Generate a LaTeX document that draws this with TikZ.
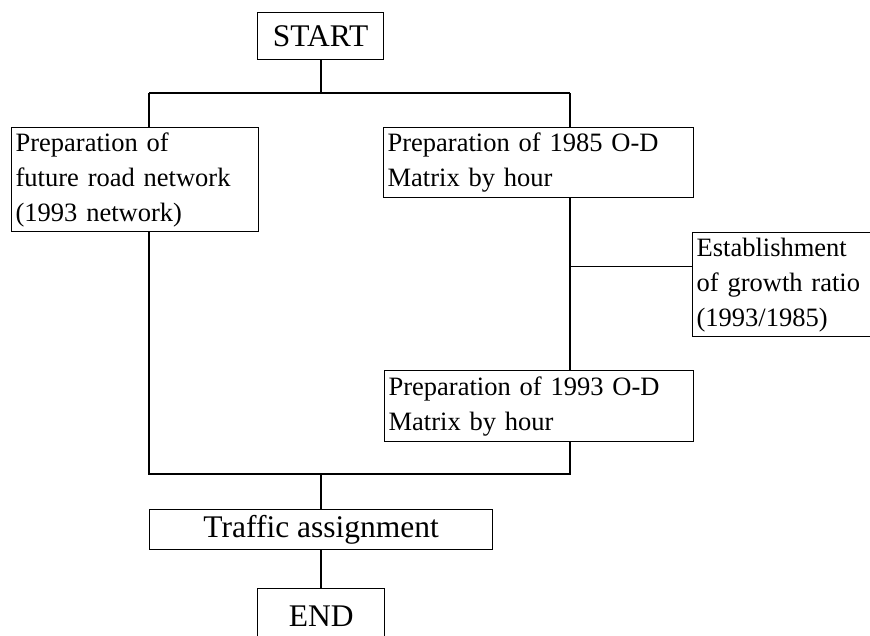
\documentclass[tikz,border=0pt]{standalone}
\usepackage{fontspec}
\setmainfont{Liberation Serif}
\usepackage{tikz}
\usetikzlibrary{positioning}

\begin{document}
\begin{tikzpicture}[x=1pt,y=-1pt]
\tikzstyle{box}=[rectangle, draw=black, line width=1.3pt, anchor=north west, inner xsep=4pt, inner ysep=0pt]
\tikzstyle{txtbox}=[box, align=left, font=\fontsize{26.5}{35}\selectfont]
\tikzstyle{bigbox}=[box, align=center, font=\fontsize{31.5}{35}\selectfont]
\tikzstyle{link}=[line width=1.6pt]
\tikzstyle{thinlink}=[line width=1pt]
\useasboundingbox (0,0) rectangle (870,635);
	\node[bigbox, minimum width=126pt, minimum height=47pt] (b_start) at (257,12) {START};
	\node[txtbox, text width=239pt, minimum height=104pt] (b_net) at (11,127) {Preparation of\\future road network\\(1993 network)};
	\node[txtbox, text width=302pt, minimum height=70pt] (b_od85) at (383,127) {Preparation of 1985 O-D\\Matrix by hour};
	\node[txtbox, text width=182pt, minimum height=104pt] (b_growth) at (692,232) {Establishment\\of growth ratio\\(1993/1985)};
	\node[txtbox, text width=301pt, minimum height=71pt] (b_od93) at (384,370) {Preparation of 1993 O-D\\Matrix by hour};
	\node[bigbox, minimum width=343pt, minimum height=40pt] (b_assign) at (149,509) {Traffic assignment};
	\node[bigbox, minimum width=127pt, minimum height=56pt] (b_end) at (257,588) {END};

	\coordinate (j_top) at (321,93);
	\coordinate (j_topl) at (149,93);
	\coordinate (j_topr) at (570,93);
	\coordinate (j_grow) at (570,266);
	\coordinate (j_bot) at (321,474);
	\coordinate (j_botl) at (149,474);
	\coordinate (j_botr) at (570,474);

	\draw[link] (b_start.south -| j_top) -- (j_top);
	\draw[link] (j_topl) -- (j_topr);
	\draw[link] (j_topl) -- (b_net.north -| j_topl);
	\draw[link] (j_topr) -- (b_od85.north -| j_topr);
	\draw[link] (b_od85.south -| j_grow) -- (b_od93.north -| j_grow);
	\draw[thinlink] (j_grow) -- (j_grow -| b_growth.west);
	\draw[link] (b_net.south -| j_botl) -- (j_botl) -- (j_botr) -- (b_od93.south -| j_botr);
	\draw[link] (j_bot) -- (b_assign.north -| j_bot);
	\draw[link] (b_assign.south -| j_bot) -- (b_end.north -| j_bot);
\end{tikzpicture}
\end{document}
